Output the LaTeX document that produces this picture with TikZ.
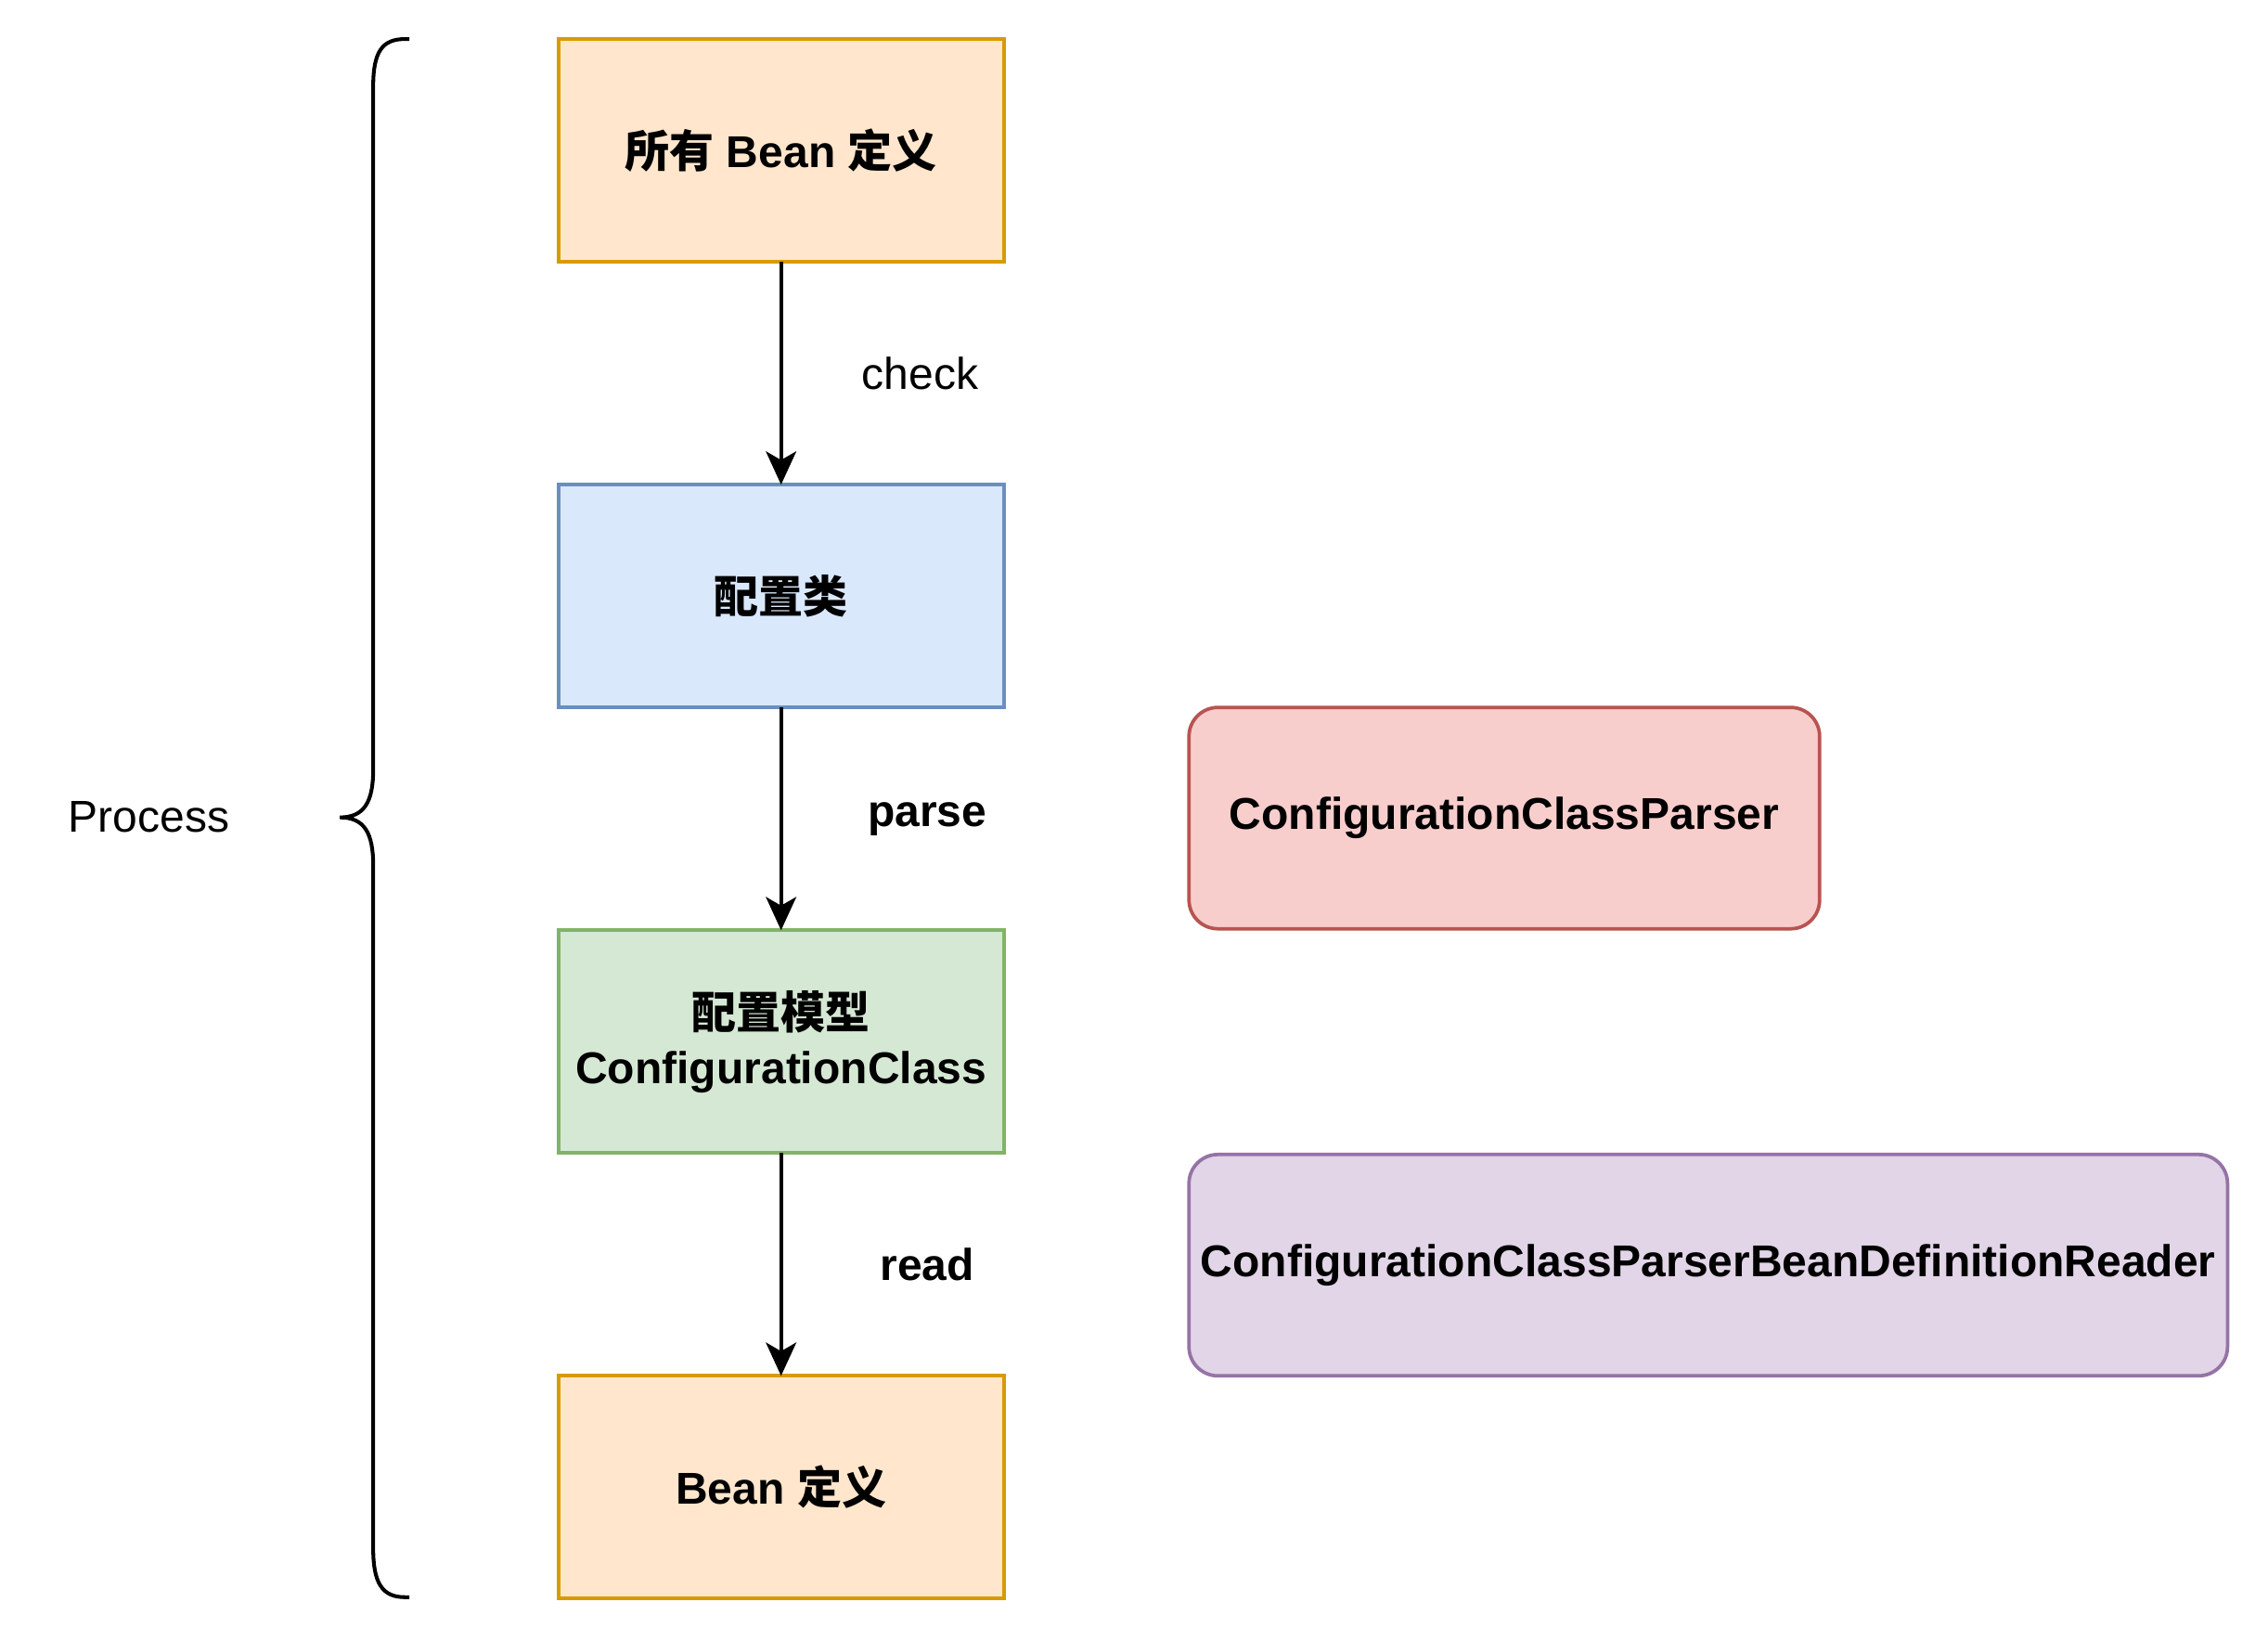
\documentclass[tikz,border=0pt]{standalone}
\usepackage{fontspec}
\setmainfont{Liberation Sans}
\newfontfamily\cjk{Noto Sans CJK SC}
\usepackage{tikz}
\usetikzlibrary{positioning, arrows.meta}
\definecolor{orangefill}{HTML}{FFE6CC}
\definecolor{orangeline}{HTML}{D79B00}
\definecolor{bluefill}{HTML}{DAE8FC}
\definecolor{blueline}{HTML}{6C8EBF}
\definecolor{greenfill}{HTML}{D5E8D4}
\definecolor{greenline}{HTML}{82B366}
\definecolor{redfill}{HTML}{F8CECC}
\definecolor{redline}{HTML}{B85450}
\definecolor{purplefill}{HTML}{E1D5E7}
\definecolor{purpleline}{HTML}{9673A6}
\newcommand{\diagfont}{\fontsize{15.4pt}{19pt}\selectfont}
\tikzstyle{block} = [rectangle, minimum width=154pt, minimum height=77pt, line width=1.2pt, align=center, inner sep=0pt, outer sep=0pt, font=\diagfont\bfseries]
\tikzstyle{tool} = [block, rounded corners=10pt, minimum height=76.5pt]
\tikzstyle{arrow} = [line width=1.2pt, -{Stealth[length=11.5pt, width=10.5pt, inset=3pt]}]
\tikzstyle{lbl} = [font=\diagfont, inner sep=0pt]

\begin{document}
\begin{tikzpicture}[x=1pt, y=1pt]
        \useasboundingbox (0,0) rectangle (784,-567);
        \node[block, fill=orangefill, draw=orangeline] (A) at (270,-52) {{\cjk 所有} Bean {\cjk 定义}};
        \node[block, fill=bluefill, draw=blueline, below=77pt of A] (B) {{\cjk 配置类}};
        \node[block, fill=greenfill, draw=greenline, below=77pt of B] (C) {{\cjk 配置模型}\\ConfigurationClass};
        \node[block, fill=orangefill, draw=orangeline, below=77pt of C] (D) {Bean {\cjk 定义}};
        \node[tool, fill=redfill, draw=redline, minimum width=218pt, right=64pt of B, yshift=-76.75pt] (P) {ConfigurationClassParser};
        \node[tool, fill=purplefill, draw=purpleline, minimum width=359pt, right=64pt of C, yshift=-77.25pt] (R) {ConfigurationClassParserBeanDefinitionReader};
        \draw[arrow] (A) -- node[lbl, midway, xshift=48pt] {check} (B);
        \draw[arrow] (B) -- node[lbl, midway, xshift=50.5pt, font=\diagfont\bfseries] {parse} (C);
        \draw[arrow] (C) -- node[lbl, midway, xshift=50.5pt, font=\diagfont\bfseries] {read} (D);
        % brace on the left
        \node[lbl] (T) at (51.5,-282.5) {Process};
        \draw[line width=1.3pt] (141.5,-13.5) -- (140,-13.5)
            .. controls (132,-13.5) and (129,-18) .. (129,-30)
            -- (129,-266)
            .. controls (129,-277) and (126,-282.5) .. (117.5,-282.5)
            .. controls (126,-282.5) and (129,-288) .. (129,-299)
            -- (129,-535)
            .. controls (129,-547) and (132,-552) .. (140,-552)
            -- (141.5,-552);
    \end{tikzpicture}
\end{document}
